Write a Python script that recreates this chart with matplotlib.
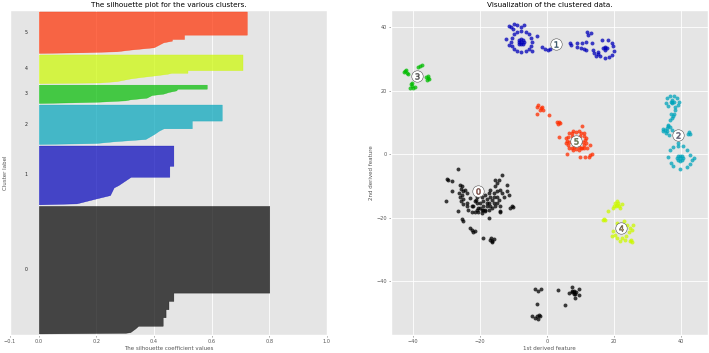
import numpy as np
import matplotlib
matplotlib.use("Agg")
import matplotlib.pyplot as plt
import matplotlib.cm as cm

plt.style.use("ggplot")

n_clusters = 6
cluster_sizes = [815, 376, 252, 117, 183, 265]

# sorted silhouette profile per cluster: fraction of the cluster (from bottom) -> value
sil_frac = [
    [0.0, 0.005, 0.01, 0.04, 0.06, 0.06, 0.127, 0.127, 0.19, 0.19, 0.255, 0.255, 0.32, 0.32, 1.0],
    [0.0, 0.017, 0.102, 0.158, 0.288, 0.328, 0.469, 0.469, 0.655, 0.655, 1.0],
    [0.0, 0.017, 0.025, 0.068, 0.127, 0.254, 0.339, 0.398, 0.398, 0.593, 0.593, 1.0],
    [0.0, 0.036, 0.073, 0.145, 0.2, 0.29, 0.436, 0.51, 0.6, 0.69, 0.78, 0.78, 1.0],
    [0.0, 0.023, 0.07, 0.163, 0.209, 0.279, 0.326, 0.36, 0.36, 0.453, 0.453, 1.0],
    [0.0, 0.016, 0.04, 0.08, 0.136, 0.176, 0.256, 0.296, 0.336, 0.336, 0.44, 0.44, 1.0],
]
sil_vals = [
    [0.0, 0.30, 0.317, 0.335, 0.345, 0.43, 0.43, 0.44, 0.44, 0.45, 0.45, 0.467, 0.467, 0.8, 0.8],
    [0.0, 0.131, 0.2, 0.247, 0.26, 0.276, 0.319, 0.453, 0.453, 0.467, 0.467],
    [0.0, 0.15, 0.2, 0.26, 0.37, 0.40, 0.417, 0.433, 0.531, 0.531, 0.635, 0.635],
    [0.0, 0.12, 0.21, 0.30, 0.317, 0.374, 0.392, 0.432, 0.45, 0.477, 0.481, 0.583, 0.583],
    [0.0, 0.212, 0.27, 0.317, 0.351, 0.41, 0.446, 0.46, 0.516, 0.516, 0.707, 0.707],
    [0.0, 0.154, 0.27, 0.317, 0.399, 0.41, 0.432, 0.462, 0.462, 0.504, 0.504, 0.722, 0.722],
]

# 2D embedding of the samples, per cluster
points_0 = [(-26.5, -4.7), (-30.0, -7.8), (-29.5, -8.0), (-28.5, -8.5), (-13.5, -6.4), (-28.5, -11.7),
            (-30.2, -14.8), (-26.0, -9.6), (-25.5, -10.1), (-25.8, -10.9), (-25.2, -11.7), (-26.2, -12.2),
            (-25.5, -12.7), (-26.0, -13.5), (-25.0, -14.1), (-25.8, -14.8), (-25.2, -15.6), (-26.5, -18.0),
            (-25.5, -20.4), (-25.0, -21.1), (-23.0, -23.2), (-22.5, -23.7), (-21.5, -24.3), (-22.0, -24.6),
            (-19.0, -26.4), (-17.0, -26.9), (-16.5, -27.4), (-16.0, -26.7), (-16.7, -26.4), (-16.6, -27.7),
            (-23.0, -13.8), (-21.5, -14.8), (-21.0, -15.4), (-21.2, -14.3), (-22.0, -16.4), (-20.5, -16.9),
            (-21.0, -17.5), (-23.5, -17.5), (-22.5, -18.3), (-21.5, -18.3), (-20.5, -18.3), (-19.5, -18.5),
            (-18.5, -18.0), (-17.5, -17.5), (-16.5, -16.9), (-15.5, -16.4), (-20.0, -15.4), (-19.0, -14.8),
            (-18.0, -14.1), (-17.0, -13.3), (-16.0, -12.2), (-15.0, -11.7), (-15.5, -10.1), (-15.0, -9.1),
            (-14.5, -8.2), (-15.5, -8.0), (-14.0, -11.2), (-13.5, -12.2), (-13.0, -13.3), (-14.5, -14.3),
            (-15.0, -15.4), (-14.0, -16.4), (-16.0, -15.4), (-17.0, -16.4), (-18.0, -16.4), (-19.0, -16.4),
            (-18.5, -17.5), (-17.5, -15.4), (-16.5, -14.3), (-19.5, -13.3), (-18.5, -12.7), (-17.5, -12.2),
            (-17.0, -11.2), (-12.0, -9.6), (-11.5, -12.7), (-10.6, -16.4), (-11.1, -16.9), (-10.3, -16.6),
            (-14.0, -18.0), (-17.5, -20.1), (-24.0, -15.4), (-23.8, -16.4), (-21.0, -13.3), (-24.5, -11.2),
            (-24.0, -12.2), (-22.5, -16.4), (-20.0, -16.9), (-19.5, -17.5), (-12.0, -11.7), (-15.0, -13.3),
            (-16.0, -13.3), (-18.0, -15.4), (-19.0, -17.5), (-14.2, -18.1),
            (-3.6, -42.4), (-2.8, -42.9), (-1.8, -42.4), (-3.1, -47.0), (-4.4, -50.8), (-3.6, -51.5),
            (-2.8, -52.0), (-2.1, -51.0), (-2.4, -50.5), (-3.1, -51.0), (3.2, -42.6), (5.2, -47.3),
            (7.9, -43.5), (7.3, -43.5), (8.5, -43.5), (7.9, -42.9), (7.9, -44.1), (7.5, -43.1), (8.3, -43.9),
            (7.4, -41.8), (9.4, -42.4), (9.6, -44.2), (8.2, -45.2), (6.4, -43.7)]
points_1 = [(-11.5, 40.5), (-10.8, 40.0), (-9.8, 41.2), (-9.0, 40.6), (-7.8, 40.0), (-7.0, 40.8), (-10.2, 39.6),
            (-7.7, 35.5), (-8.5, 35.5), (-6.9, 35.5), (-7.7, 36.3), (-7.7, 34.7), (-8.3, 36.1), (-7.1, 36.1),
            (-8.3, 34.9), (-7.1, 34.9),
            (-4.5, 35.5), (-4.8, 36.8), (-5.4, 37.9), (-6.4, 38.5), (-7.7, 38.7), (-9.0, 38.5), (-10.0, 37.9),
            (-10.6, 36.8), (-10.9, 35.5), (-10.6, 34.2), (-10.0, 33.1), (-9.0, 32.5), (-7.7, 32.3), (-6.4, 32.5),
            (-5.4, 33.1), (-4.8, 34.2),
            (-12.2, 36.3), (-11.4, 34.4), (-3.0, 37.4), (-4.6, 32.6),
            (-1.4, 33.9), (-0.6, 33.3), (0.2, 33.0), (0.8, 33.2), (6.9, 35.0), (7.2, 34.3),
            (8.9, 35.2), (9.0, 33.9), (10.2, 33.5), (10.5, 35.0), (11.6, 35.4), (12.0, 38.6), (12.3, 37.6),
            (13.0, 38.2), (13.3, 35.2), (11.0, 33.2), (11.5, 32.8), (14.0, 31.8), (14.6, 31.0), (15.2, 31.5),
            (13.8, 33.0),
            (17.3, 33.4), (16.8, 33.4), (17.8, 33.4), (17.3, 33.9), (17.3, 32.9),
            (16.5, 36.1), (18.2, 36.0), (19.4, 35.2), (19.8, 34.0), (20.0, 32.5), (19.5, 31.4), (18.6, 30.8),
            (17.3, 30.5), (15.9, 31.0), (15.1, 32.2)]
points_2 = [(37.4, 16.6), (36.9, 16.6), (37.9, 16.6), (37.4, 17.1), (37.4, 16.1),
            (35.7, 17.7), (36.7, 18.4), (37.9, 18.4), (38.9, 17.7), (39.5, 16.6), (39.2, 15.6), (38.2, 15.0),
            (36.2, 15.2), (35.5, 16.3),
            (38.2, 14.0), (37.9, 12.7), (37.5, 12.1), (36.9, 12.7), (37.2, 11.4), (36.7, 10.8), (36.2, 9.3),
            (35.7, 8.2), (35.2, 7.7), (34.7, 7.9), (36.7, 8.5), (37.2, 7.7), (35.7, 7.2), (36.2, 9.0),
            (34.5, 7.2), (35.5, 6.8), (36.5, 6.0),
            (42.2, 6.9), (41.9, 6.3), (42.5, 6.5),
            (39.7, -1.2), (38.9, -1.2), (40.5, -1.2), (39.7, -0.4), (39.7, -2.0), (39.1, -0.6), (40.3, -0.6),
            (39.1, -1.8), (40.3, -1.8),
            (36.7, 1.4), (37.7, 2.3), (39.2, 2.7), (40.7, 2.5), (41.7, 1.4), (42.5, -0.2), (43.2, -1.7),
            (42.7, -3.0), (41.7, -4.0), (39.7, -4.7), (37.7, -3.8), (36.9, -2.6), (36.2, -0.7), (43.7, -1.2),
            (39.2, 3.5)]
points_3 = [(-42.3, 26.2), (-41.9, 25.7), (-42.0, 26.5), (-41.5, 25.4), (-42.6, 25.9), (-38.6, 27.4),
            (-37.9, 27.9), (-37.4, 28.1), (-36.2, 24.3), (-35.7, 24.0), (-35.2, 23.6), (-35.6, 24.6),
            (-36.0, 23.5), (-40.7, 22.0), (-40.2, 21.4), (-40.8, 21.0), (-39.9, 20.9), (-40.4, 22.6),
            (-39.5, 21.2)]
points_4 = [(20.3, -15.4), (21.3, -15.4), (20.6, -16.4), (21.6, -16.2), (20.0, -16.2), (21.0, -14.8),
            (21.8, -16.9), (19.8, -16.9), (20.8, -15.9), (22.3, -15.6),
            (18.3, -18.0), (17.0, -20.4), (17.3, -20.8), (16.8, -20.6),
            (22.8, -21.1), (23.8, -22.2), (24.6, -23.2), (24.3, -24.6), (23.6, -25.6), (22.3, -26.4),
            (21.0, -26.4), (20.3, -25.3), (20.8, -21.6), (25.3, -23.7), (25.6, -22.2), (19.6, -24.0),
            (19.3, -25.6),
            (24.6, -27.4), (25.3, -27.7), (21.8, -27.4), (23.3, -27.1), (25.1, -27.1)]
points_5 = [(11.3, 4.4), (11.0, 5.7), (10.0, 6.7), (8.7, 7.0), (7.3, 6.6), (6.3, 5.6), (6.0, 4.3),
            (6.3, 3.0), (7.3, 2.1), (8.7, 1.7), (10.0, 2.1), (11.0, 3.1),
            (11.7, 5.2), (10.9, 6.6), (9.5, 7.4), (7.8, 7.4), (6.4, 6.6), (5.6, 5.2), (5.6, 3.5),
            (6.4, 2.1), (7.8, 1.3), (9.5, 1.3), (10.9, 2.1), (11.7, 3.5),
            (10.8, 4.0), (9.9, 5.9), (7.4, 5.9), (6.5, 4.0), (8.0, 2.3), (9.6, 2.4),
            (-3.1, 15.0), (-2.6, 15.6), (-1.8, 14.5), (-1.6, 15.0), (-1.1, 14.0), (-2.1, 14.0),
            (-3.1, 12.6), (0.6, 12.4), (2.9, 10.1), (3.4, 10.3), (3.2, 9.5), (3.7, 9.8), (3.4, 5.6),
            (10.5, 8.8), (5.9, 0.05), (9.8, -0.7), (11.3, -0.9), (12.8, -0.2), (13.3, 0.05), (12.6, -0.7),
            (11.8, 1.9), (12.8, 3.0), (10.3, 1.9)]
cluster_points = [points_0, points_1, points_2, points_3, points_4, points_5]

centers_x = [-20.5, 2.5, 39.0, -38.9, 22.1, 8.65]
centers_y = [-11.7, 34.6, 6.1, 24.8, -23.2, 4.35]
label_colors = ['#E24A33', '#348ABD', '#988ED5', '#777777', '#FBC15E', '#8EBA42']

fig = plt.figure(figsize=(7.09, 3.53), dpi=100)
ax1 = fig.add_axes([0.0141, 0.051, 0.447, 0.921])
ax2 = fig.add_axes([0.5515, 0.051, 0.447, 0.921])

# silhouette plot
ax1.set_xlim([-0.1, 1])
ax1.set_ylim([0, sum(cluster_sizes) + (n_clusters + 1) * 10])
y_lower = 10
for i in range(n_clusters):
    size = cluster_sizes[i]
    y = y_lower + np.array(sil_frac[i]) * size
    color = cm.nipy_spectral(float(i) / n_clusters)
    ax1.fill_betweenx(y, 0, sil_vals[i], facecolor=color, edgecolor=color, alpha=0.7, lw=0.3)
    ax1.text(-0.05, y_lower + 0.5 * size, str(i), fontsize=3.4, color='#222222', va='center')
    y_lower = y_lower + size + 10

ax1.set_title("The silhouette plot for the various clusters.", fontsize=5.2, pad=2)
ax1.set_xlabel("The silhouette coefficient values", fontsize=4.0, labelpad=1.5)
ax1.set_ylabel("Cluster label", fontsize=4.0, labelpad=1.5)
ax1.set_yticks([])
ax1.set_xticks([-0.1, 0, 0.2, 0.4, 0.6, 0.8, 1])

# clustered data
for i in range(n_clusters):
    pts = np.array(cluster_points[i])
    color = cm.nipy_spectral(float(i) / n_clusters)
    ax2.scatter(pts[:, 0], pts[:, 1], marker='o', s=8, lw=0, alpha=0.75, color=color)

ax2.scatter(centers_x, centers_y, marker='o', c='white', alpha=1, s=68, edgecolor='#555555', lw=0.4)
for i in range(n_clusters):
    ax2.scatter(centers_x[i], centers_y[i], marker='$%d$' % i, alpha=1, s=20,
                color=label_colors[i], edgecolor='#333333', lw=0.3)

ax2.set_xlim(-46.6, 48.0)
ax2.set_ylim(-56.9, 45.5)
ax2.set_xticks([-40, -20, 0, 20, 40])
ax2.set_yticks([-40, -20, 0, 20, 40])
ax2.set_title("Visualization of the clustered data.", fontsize=5.2, pad=2)
ax2.set_xlabel("1st derived feature", fontsize=4.0, labelpad=1.5)
ax2.set_ylabel("2nd derived feature", fontsize=4.0, labelpad=1.5)

for ax in (ax1, ax2):
    ax.tick_params(labelsize=3.6, length=1.5, width=0.4, pad=1.5)
    ax.grid(True, color='white', lw=0.6)

fig.savefig("out.png", dpi=100)
